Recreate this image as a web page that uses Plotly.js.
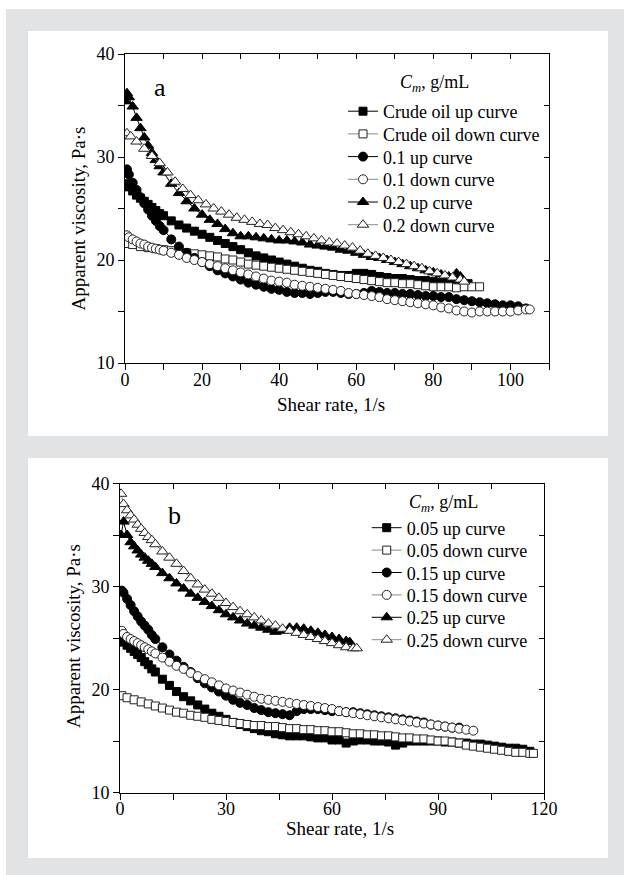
<!DOCTYPE html>
<html>
<head>
<meta charset="utf-8">
<script src="https://cdn.plot.ly/plotly-3.0.1.min.js"></script>
<style>html,body{margin:0;padding:0;background:#e2e3e4;}#chart{width:624px;height:875px;}</style>
</head>
<body>
<div id="chart"></div>
<script>
// ---------------- Panel a data ----------------
const xA_crudeUp = [0.5,1,2,3,4,5,6,7,8,9,10,12,14,16,18,20,22,24,26,28,30,32,34,36,38,40,42,44,46,48,50,52,54,56,58,60,62,64,66,68,70,72,74,76,78,80,82,84,86,88,89];
const yA_crudeUp = [27.4,27.1,26.7,26.3,26.0,25.7,25.4,25.1,24.8,24.5,24.3,23.8,23.4,23.1,22.8,22.5,22.2,21.9,21.6,21.3,21.0,20.7,20.4,20.2,20.0,19.8,19.6,19.4,19.2,19.0,18.9,18.7,18.6,18.5,18.5,18.7,18.7,18.6,18.4,18.3,18.2,18.2,18.1,18.0,18.0,17.9,17.8,17.8,17.8,17.7,17.7];

const xA_crudeDown = [0.5,2,4,6,8,10,12,14,16,18,20,22,24,26,28,30,32,34,36,38,40,42,44,46,48,50,52,54,56,58,60,62,64,66,68,70,72,74,76,78,80,82,84,86,88,90,92];
const yA_crudeDown = [21.6,21.5,21.3,21.2,21.1,21.0,20.9,20.8,20.7,20.6,20.5,20.4,20.3,20.1,20.0,19.8,19.6,19.5,19.4,19.3,19.2,19.1,19.0,18.9,18.8,18.7,18.6,18.5,18.4,18.3,18.2,18.1,18.0,17.9,17.8,17.8,17.7,17.7,17.6,17.5,17.4,17.4,17.4,17.3,17.4,17.4,17.4];

const xA_01Up = [0.5,1,2,3,4,5,6,7,8,9,10,12,14,16,18,20,22,24,26,28,30,32,34,36,38,40,42,44,46,48,50,52,54,56,58,60,62,64,66,68,70,72,74,76,78,80,82,84,86,88,90,92,94,96,98,100,102,104];
const yA_01Up = [28.8,28.3,27.5,26.8,26.1,25.5,24.9,24.3,23.8,23.3,22.9,22.0,21.3,20.7,20.2,19.8,19.4,19.0,18.7,18.4,18.1,17.8,17.6,17.4,17.2,17.1,16.9,16.8,16.8,16.7,16.8,16.9,16.9,16.8,16.7,16.7,16.8,17.0,16.9,16.8,16.8,16.7,16.7,16.6,16.5,16.5,16.4,16.4,16.2,16.1,16.0,15.9,15.8,15.7,15.6,15.6,15.5,15.3];

const xA_01Down = [0.5,1,2,3,4,5,6,7,8,9,10,12,14,16,18,20,22,24,26,28,30,32,34,36,38,40,42,44,46,48,50,52,54,56,58,60,62,64,66,68,70,72,74,76,78,80,82,84,86,88,90,92,94,96,98,100,102,104,105];
const yA_01Down = [22.4,22.2,22.0,21.8,21.6,21.5,21.3,21.2,21.1,21.0,20.9,20.7,20.5,20.2,20.0,19.8,19.6,19.4,19.2,19.0,18.8,18.6,18.4,18.2,18.0,17.9,17.8,17.6,17.5,17.4,17.3,17.2,17.1,17.0,16.8,16.7,16.6,16.5,16.4,16.2,16.1,16.0,15.9,15.8,15.7,15.6,15.4,15.3,15.1,15.0,14.9,15.0,15.0,15.0,15.0,15.0,15.1,15.2,15.2];

const xA_02Up = [0.2,0.5,1,2,3,4,5,6,7,8,9,10,12,14,16,18,20,22,24,26,28,30,32,34,36,38,40,42,44,46,48,50,52,54,56,58,60,62,64,66,68,70,72,74,76,78,80,82,84,86,87];
const yA_02Up = [35.4,36.2,35.8,34.9,33.8,32.8,31.9,31.1,30.4,29.7,29.1,28.5,27.4,26.5,25.7,25.0,24.4,23.9,23.5,23.0,22.6,22.3,22.3,22.2,22.1,22.0,21.9,21.9,21.8,21.7,21.5,21.4,21.3,21.2,21.0,20.9,20.7,20.5,20.3,20.2,20.0,19.8,19.6,19.4,19.2,19.0,18.8,18.6,18.4,18.7,18.4];

const xA_02Down = [0.5,1.5,3,5,7,9,11,13,15,17,19,21,23,25,27,29,31,33,35,37,39,41,43,45,47,49,51,53,55,57,59,61,63,65,67,69,71,73,75,77,79,81,83,85,87,88];
const yA_02Down = [32.3,32.0,31.5,30.8,30.1,29.4,28.5,27.6,26.9,26.3,25.8,25.4,25.0,24.7,24.4,24.1,23.9,23.7,23.5,23.4,23.1,22.9,22.7,22.5,22.3,22.1,21.9,21.7,21.6,21.4,21.2,20.9,20.6,20.4,20.2,20.0,19.8,19.6,19.4,19.2,18.9,18.7,18.5,18.3,18.1,17.9];

// ---------------- Panel b data ----------------
const xB_005Up = [0.5,1,2,3,4,5,6,7,8,9,10,12,14,16,18,20,22,24,26,28,30,32,34,36,38,40,42,44,46,48,50,52,54,56,58,60,62,64,66,68,70,72,74,76,78,80,82,84,86,88,90,92,94,96,98,100,102,104,106,108,110,112,114,116];
const yB_005Up = [24.8,24.6,24.3,24.0,23.7,23.4,23.1,22.7,22.4,22.0,21.7,21.0,20.4,19.8,19.3,18.9,18.5,18.1,17.7,17.4,17.1,16.8,16.6,16.4,16.2,16.0,15.9,15.7,15.6,15.5,15.5,15.5,15.4,15.3,15.3,15.1,15.1,14.8,15.0,15.1,15.1,15.0,15.0,14.9,14.6,14.8,15.0,15.0,15.0,15.0,15.0,14.9,14.9,14.8,14.8,14.7,14.7,14.6,14.5,14.4,14.3,14.3,14.2,14.0];

const xB_005Down = [0.5,2,4,6,8,10,12,14,16,18,20,22,24,26,28,30,32,34,36,38,40,42,44,46,48,50,52,54,56,58,60,62,64,66,68,70,72,74,76,78,80,82,84,86,88,90,92,94,96,98,100,102,104,106,108,110,112,114,116,117];
const yB_005Down = [19.4,19.2,19.0,18.8,18.6,18.4,18.2,18.0,17.8,17.7,17.5,17.4,17.3,17.1,17.0,16.9,16.8,16.7,16.6,16.5,16.5,16.4,16.4,16.3,16.2,16.2,16.1,16.1,16.0,16.0,15.9,15.9,15.8,15.7,15.7,15.6,15.6,15.5,15.5,15.4,15.3,15.3,15.2,15.2,15.1,15.0,15.0,14.9,14.8,14.6,14.5,14.4,14.3,14.2,14.1,14.0,13.9,13.9,13.8,13.8];

const xB_015Up = [0.5,1,2,3,4,5,6,7,8,9,10,12,14,16,18,20,22,24,26,28,30,32,34,36,38,40,42,44,46,48,50,52,54,56,58,60,62,64,66,68,70,72,74,76,78,80,82,84,86,88,90,92,94,96];
const yB_015Up = [29.6,29.4,28.8,28.2,27.6,27.1,26.6,26.2,25.8,25.3,24.9,24.1,23.4,22.8,22.2,21.7,21.1,20.6,20.2,19.8,19.4,19.0,18.7,18.5,18.2,18.0,17.8,17.7,17.6,17.5,17.9,18.1,18.1,18.1,18.0,17.9,17.9,17.8,17.8,17.7,17.6,17.5,17.4,17.3,17.2,17.1,17.0,16.9,16.8,16.6,16.5,16.4,16.3,16.3];

const xB_015Down = [0.5,1,2,3,4,5,6,7,8,9,10,12,14,16,18,20,22,24,26,28,30,32,34,36,38,40,42,44,46,48,50,52,54,56,58,60,62,64,66,68,70,72,74,76,78,80,82,84,86,88,90,92,94,96,98,100];
const yB_015Down = [25.7,25.4,25.1,24.9,24.7,24.5,24.3,24.1,23.9,23.7,23.5,23.1,22.7,22.3,22.0,21.6,21.3,21.0,20.7,20.4,20.1,19.9,19.7,19.5,19.3,19.1,19.0,18.9,18.8,18.7,18.6,18.5,18.4,18.3,18.2,18.1,17.9,17.8,17.7,17.6,17.5,17.4,17.3,17.2,17.1,17.0,16.9,16.8,16.7,16.6,16.5,16.4,16.3,16.2,16.1,16.0];

const xB_025Up = [0.3,1,2,3,4,5,6,7,8,9,10,12,14,16,18,20,22,24,26,28,30,32,34,36,38,40,42,44,46,48,50,52,54,56,58,60,62,64,65];
const yB_025Up = [35.0,36.3,35.0,34.3,33.9,33.5,33.1,32.8,32.5,32.2,31.9,31.3,30.8,30.3,29.8,29.3,28.9,28.5,28.1,27.7,27.3,27.0,26.7,26.4,26.2,26.0,25.8,25.6,25.7,26.0,26.0,25.9,25.7,25.5,25.3,25.1,24.9,24.7,24.6];

const xB_025Down = [0.3,1,2,3,4,5,6,7,8,9,10,12,14,16,18,20,22,24,26,28,30,32,34,36,38,40,42,44,46,48,50,52,54,56,58,60,62,64,66,67];
const yB_025Down = [39.0,38.0,37.4,36.9,36.5,36.0,35.6,35.2,34.8,34.5,34.1,33.4,32.8,32.2,31.5,30.8,30.2,29.7,29.3,28.9,28.4,28.0,27.6,27.3,27.0,26.7,26.4,26.2,25.9,25.7,25.5,25.3,25.1,24.9,24.7,24.5,24.3,24.1,24.0,24.0];

// legend labels
const namesA = ["Crude oil up curve","Crude oil down curve","0.1 up curve","0.1 down curve","0.2 up curve","0.2 down curve"];
const namesB = ["0.05 up curve","0.05 down curve","0.15 up curve","0.15 down curve","0.25 up curve","0.25 down curve"];

// ---------------- styling / layout helpers ----------------
const FONT = "Liberation Serif, Times New Roman, serif";
const W = 624, H = 875;
const px = v => v / W;
const py = v => 1 - v / H;

const symSize = {square: 8, circle: 9, 'triangle-up': 10};

function mk(x, y, name, sym, filled, xa, ya, leg) {
  return {
    type: 'scatter', mode: 'lines+markers', x: x, y: y, name: name,
    xaxis: xa, yaxis: ya, legend: leg,
    line: {color: filled ? '#000000' : '#8a8a8a', width: 1},
    marker: {symbol: sym, size: symSize[sym], color: filled ? '#000000' : '#ffffff',
             line: {color: filled ? '#000000' : '#222222', width: 1}},
    hoverinfo: 'skip'
  };
}

const syms = ['square','square','circle','circle','triangle-up','triangle-up'];
const fills = [true,false,true,false,true,false];
const dataA = [[xA_crudeUp,yA_crudeUp],[xA_crudeDown,yA_crudeDown],[xA_01Up,yA_01Up],[xA_01Down,yA_01Down],[xA_02Up,yA_02Up],[xA_02Down,yA_02Down]];
const dataB = [[xB_005Up,yB_005Up],[xB_005Down,yB_005Down],[xB_015Up,yB_015Up],[xB_015Down,yB_015Down],[xB_025Up,yB_025Up],[xB_025Down,yB_025Down]];

const traces = [];
const legendRowsA = [111.5, 134.2, 156.9, 179.6, 202.3, 225.0];
const legendRowsB = [528.0, 550.4, 572.8, 595.2, 617.6, 640.0];
const legTextXA = 383, legTextXB = 406.7;
const layoutLegends = {};
const legFont = {family: FONT, size: 18, color: '#000'};

for (let i = 0; i < 6; i++) {
  const key = 'legend' + (i === 0 ? '' : (i + 1));
  traces.push(mk(dataA[i][0], dataA[i][1], namesA[i], syms[i], fills[i], 'x', 'y', key));
  layoutLegends[key] = {x: px(legTextXA - 40), xanchor: 'left', y: py(legendRowsA[i]), yanchor: 'middle',
    bgcolor: 'rgba(0,0,0,0)', borderwidth: 0, itemwidth: 30, font: legFont};
}
for (let i = 0; i < 6; i++) {
  const key = 'legend' + (i + 7);
  traces.push(mk(dataB[i][0], dataB[i][1], namesB[i], syms[i], fills[i], 'x2', 'y2', key));
  layoutLegends[key] = {x: px(legTextXB - 40), xanchor: 'left', y: py(legendRowsB[i]), yanchor: 'middle',
    bgcolor: 'rgba(0,0,0,0)', borderwidth: 0, itemwidth: 30, font: legFont};
}
// empty helpers so the mirrored (inside-tick) axes exist
traces.push({type:'scatter', x:[], y:[], xaxis:'x3', yaxis:'y', showlegend:false, hoverinfo:'skip'});
traces.push({type:'scatter', x:[], y:[], xaxis:'x', yaxis:'y3', showlegend:false, hoverinfo:'skip'});
traces.push({type:'scatter', x:[], y:[], xaxis:'x4', yaxis:'y2', showlegend:false, hoverinfo:'skip'});
traces.push({type:'scatter', x:[], y:[], xaxis:'x2', yaxis:'y4', showlegend:false, hoverinfo:'skip'});

const tickFont = {family: FONT, size: 18, color: '#000'};
function mainX(domain, range, dtick, minor, anchor) {
  return {domain: domain, range: range, anchor: anchor, tick0: 0, dtick: dtick, ticks: 'outside', ticklen: 6,
    tickwidth: 1, tickcolor: '#000', showline: true, linecolor: '#000', linewidth: 1, showgrid: false,
    zeroline: false, tickfont: tickFont, fixedrange: true, ticklabelstandoff: -6,
    minor: {tick0: 0, dtick: minor, ticks: 'outside', ticklen: 6, tickcolor: '#000', showgrid: false}};
}
function mainY(domain, anchor) {
  return {domain: domain, range: [10, 40], anchor: anchor, tick0: 10, dtick: 10, ticks: 'outside', ticklen: 6,
    tickwidth: 1, tickcolor: '#000', showline: true, linecolor: '#000', linewidth: 1, showgrid: false,
    zeroline: false, tickfont: tickFont, fixedrange: true,
    minor: {tick0: 10, dtick: 5, ticks: 'outside', ticklen: 6, tickcolor: '#000', showgrid: false}};
}
function mirrorX(over, range, dtick, anchor) {
  return {overlaying: over, side: 'top', anchor: anchor, range: range, tick0: 0, dtick: dtick, ticks: 'inside',
    ticklen: 5, tickcolor: '#000', showline: true, linecolor: '#000', linewidth: 1, showgrid: false,
    zeroline: false, showticklabels: false, fixedrange: true};
}
function mirrorY(over, anchor) {
  return {overlaying: over, side: 'right', anchor: anchor, range: [10, 40], tick0: 10, dtick: 5, ticks: 'inside',
    ticklen: 5, tickcolor: '#000', showline: true, linecolor: '#000', linewidth: 1, showgrid: false,
    zeroline: false, showticklabels: false, fixedrange: true};
}

const titleFont = {family: FONT, size: 19, color: '#000'};
const ann = (t, x, y, opt) => Object.assign({text: t, xref: 'paper', yref: 'paper', x: px(x), y: py(y),
  xanchor: 'center', yanchor: 'middle', showarrow: false, font: titleFont}, opt || {});

const layout = Object.assign({
  width: W, height: H,
  margin: {l: 0, r: 0, t: 0, b: 0},
  paper_bgcolor: '#e2e3e4', plot_bgcolor: 'rgba(0,0,0,0)',
  showlegend: true, hovermode: false,
  xaxis: mainX([px(125), px(549)], [0, 110], 20, 10, 'y'),
  yaxis: mainY([py(363), py(54)], 'x'),
  xaxis3: mirrorX('x', [0, 110], 10, 'y'),
  yaxis3: mirrorY('y', 'x'),
  xaxis2: mainX([px(120), px(544)], [0, 120], 30, 15, 'y2'),
  yaxis2: mainY([py(792.5), py(483.5)], 'x2'),
  xaxis4: mirrorX('x2', [0, 120], 15, 'y2'),
  yaxis4: mirrorY('y2', 'x2'),
  shapes: [
    {type: 'rect', xref: 'paper', yref: 'paper', x0: 0, x1: 1, y0: py(9), y1: 1, fillcolor: '#ffffff', line: {width: 0}, layer: 'below'},
    {type: 'rect', xref: 'paper', yref: 'paper', x0: 0, x1: px(6), y0: 0, y1: 1, fillcolor: '#ffffff', line: {width: 0}, layer: 'below'},
    {type: 'rect', xref: 'paper', yref: 'paper', x0: px(28), x1: px(608), y0: py(436), y1: py(31), fillcolor: '#ffffff', line: {width: 0}, layer: 'below'},
    {type: 'rect', xref: 'paper', yref: 'paper', x0: px(28), x1: px(608), y0: py(858), y1: py(458), fillcolor: '#ffffff', line: {width: 0}, layer: 'below'}
  ],
  annotations: [
    ann('a', 160.5, 87.2, {font: {family: FONT, size: 26, color: '#000'}}),
    ann('b', 174, 515.9, {font: {family: FONT, size: 26, color: '#000'}}),
    ann('<i>C<sub>m</sub></i>, g/mL', 398, 83, {xanchor: 'left', font: {family: FONT, size: 18, color: '#000'}}),
    ann('<i>C<sub>m</sub></i>, g/mL', 406.7, 503, {xanchor: 'left', font: {family: FONT, size: 18, color: '#000'}}),
    ann('Apparent viscosity, Pa·s', 78.5, 219, {textangle: -90}),
    ann('Shear rate, 1/s', 331, 404.5),
    ann('Apparent viscosity, Pa·s', 73, 636, {textangle: -90}),
    ann('Shear rate, 1/s', 340, 828.5)
  ]
}, layoutLegends);

Plotly.newPlot('chart', traces, layout, {staticPlot: true, displayModeBar: false});
</script>
</body>
</html>
